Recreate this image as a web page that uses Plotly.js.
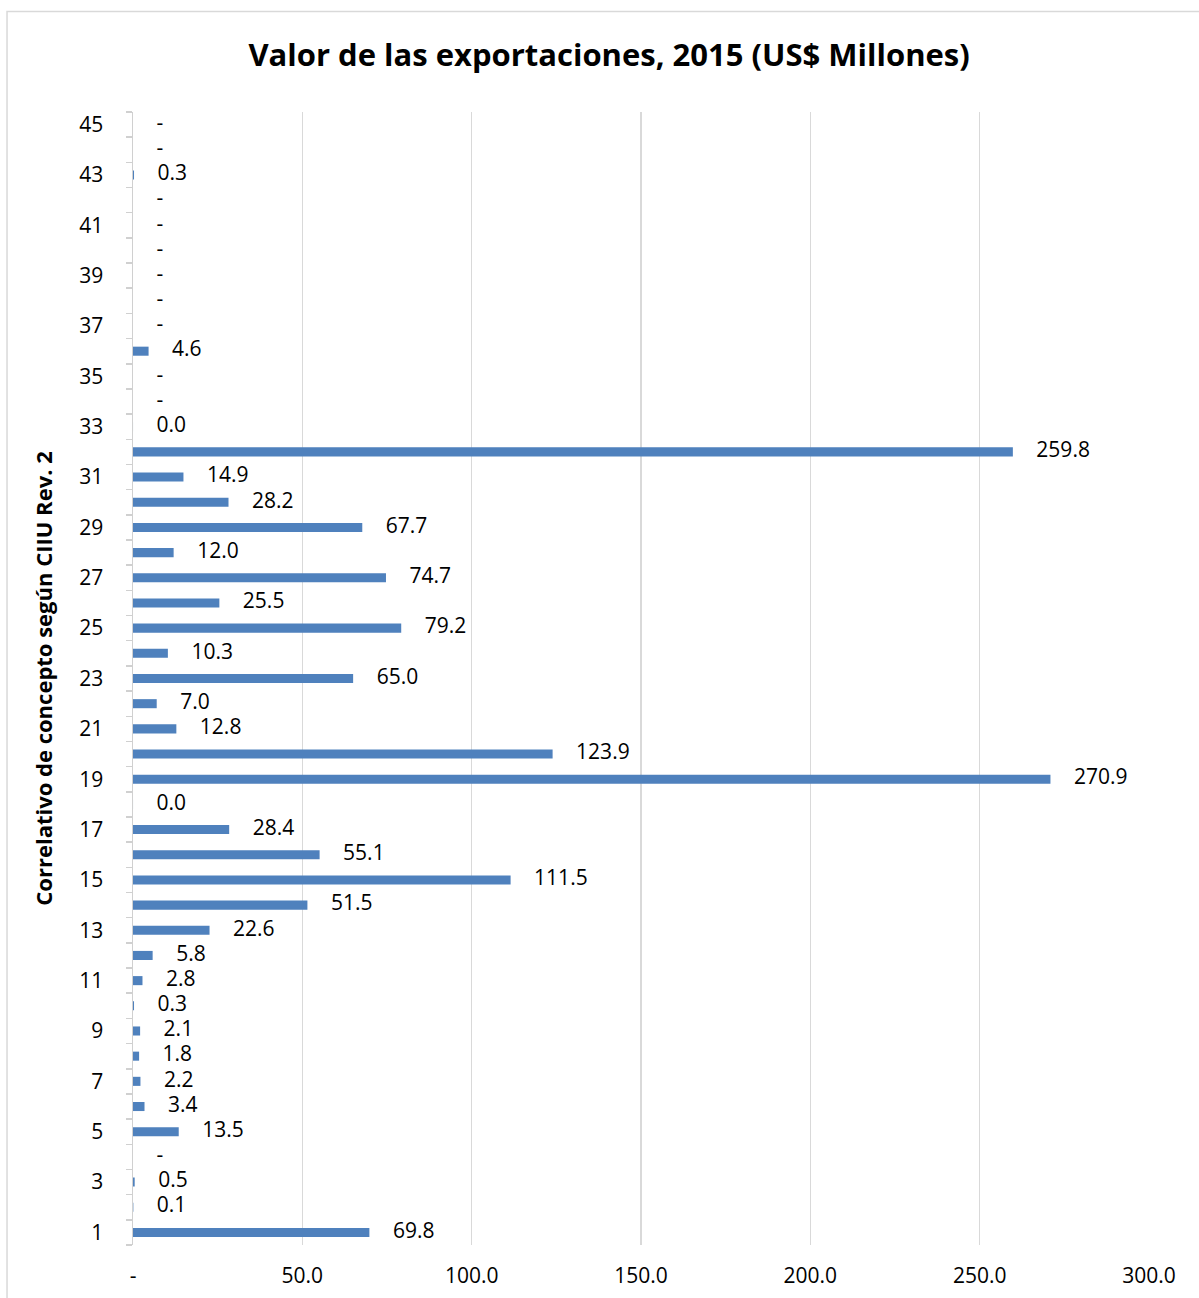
<!DOCTYPE html>
<html>
<head>
<meta charset="utf-8">
<script src="https://cdn.plot.ly/plotly-3.0.1.min.js"></script>
<style>html,body{margin:0;padding:0;background:#fff;}#chart{width:1199px;height:1298px;}</style>
</head>
<body>
<div id="chart"></div>
<script>
// Category numbers (Correlativo de concepto según CIIU Rev. 2)
const categories = [1,2,3,4,5,6,7,8,9,10,11,12,13,14,15,16,17,18,19,20,21,22,23,24,25,26,27,28,29,30,31,32,33,34,35,36,37,38,39,40,41,42,43,44,45];
// Export values 2015, US$ millions (0 = "-", 0.01 = shown as "0.0")
const values = [69.8,0.1,0.5,0,13.5,3.4,2.2,1.8,2.1,0.3,2.8,5.8,22.6,51.5,111.5,55.1,28.4,0.01,270.9,123.9,12.8,7.0,65.0,10.3,79.2,25.5,74.7,12.0,67.7,28.2,14.9,259.8,0.01,0,0,4.6,0,0,0,0,0,0,0.3,0,0];
const xTickVals = [0,50,100,150,200,250,300];
const xTickText = ['-','50.0','100.0','150.0','200.0','250.0','300.0'];
const yTickVals = [1,3,5,7,9,11,13,15,17,19,21,23,25,27,29,31,33,35,37,39,41,43,45];

const labels = values.map(v => v === 0 ? '-' : v.toFixed(1));
const FONT = 'Open Sans, Noto Sans, sans-serif';

const bars = {
  type: 'bar',
  orientation: 'h',
  x: values,
  y: categories,
  width: 0.36,
  marker: {color: '#4f81bd'},
  hoverinfo: 'skip',
  showlegend: false
};
const textTrace = {
  type: 'scatter',
  mode: 'markers+text',
  x: values,
  y: categories,
  text: labels,
  textposition: 'middle right',
  textfont: {family: FONT, size: 21, color: '#000'},
  marker: {size: 36, color: 'rgba(0,0,0,0)'},
  hoverinfo: 'skip',
  showlegend: false,
  cliponaxis: false
};

const layout = {
  width: 1199,
  height: 1298,
  margin: {l: 133, r: 50, t: 112, b: 53},
  paper_bgcolor: '#ffffff',
  plot_bgcolor: '#ffffff',
  font: {family: FONT, size: 21, color: '#000'},
  title: {
    text: '<b>Valor de las exportaciones, 2015 (US$ Millones)</b>',
    font: {family: FONT, size: 31, color: '#000'},
    x: 0.508, xref: 'container', xanchor: 'center',
    y: 0.9576, yref: 'container', yanchor: 'middle'
  },
  xaxis: {
    range: [0, 300],
    tickvals: xTickVals,
    ticktext: xTickText,
    showgrid: true,
    gridcolor: '#d9d9d9',
    gridwidth: 1.5,
    zeroline: false,
    showline: false,
    ticks: '',
    ticklabelstandoff: 16,
    tickfont: {family: FONT, size: 21, color: '#000'},
    fixedrange: true
  },
  yaxis: {
    range: [0.5, 45.5],
    tickvals: yTickVals,
    ticktext: yTickVals.map(String),
    showgrid: false,
    zeroline: false,
    showline: true,
    linecolor: '#d0d0d0',
    linewidth: 1.5,
    ticks: '',
    ticklabelstandoff: 24,
    tickfont: {family: FONT, size: 21, color: '#000'},
    minor: {tick0: 0.5, dtick: 1, ticks: 'outside', ticklen: 6, tickcolor: '#d0d0d0', tickwidth: 1.5, showgrid: false},
    title: {
      text: '<b>Correlativo de concepto según CIIU Rev. 2</b>',
      font: {family: FONT, size: 22, color: '#000'},
      standoff: 20
    },
    automargin: false,
    fixedrange: true
  },
  shapes: [{
    type: 'rect', xref: 'paper', yref: 'paper',
    x0: -0.124, x1: 1.2, y0: -0.2, y1: 1.0887,
    line: {color: '#d9d9d9', width: 1.5},
    fillcolor: 'rgba(0,0,0,0)',
    layer: 'below'
  }]
};

Plotly.newPlot('chart', [bars, textTrace], layout, {displayModeBar: false, staticPlot: true});
</script>
</body>
</html>
